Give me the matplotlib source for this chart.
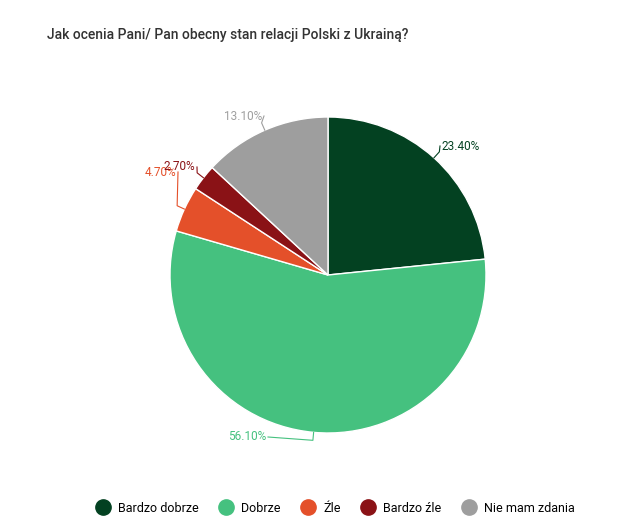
import numpy as np
import matplotlib.pyplot as plt
from matplotlib.lines import Line2D

categories = ["Bardzo dobrze", "Dobrze", "Źle", "Bardzo źle", "Nie mam zdania"]
values = [23.4, 56.1, 4.7, 2.7, 13.1]
labels = ["23.40%", "56.10%", "4.70%", "2.70%", "13.10%"]
colors = ["#034121", "#45c17f", "#e4502a", "#8a1216", "#9e9e9e"]
# label anchor pixel positions (x, y from top)
label_pos = [(442, 146), (266, 437), (176, 172), (195, 167), (262, 116)]

W, H = 634, 530
fig = plt.figure(figsize=(W/100, H/100), dpi=100)
ax = fig.add_axes([0, 0, 1, 1])
cx, cy, R = 328, H - 275, 158
wedges, _ = ax.pie(values, colors=colors, startangle=90, counterclock=False,
                   center=(cx, cy), radius=R, frame=True,
                   wedgeprops=dict(edgecolor="white", linewidth=1))
ax.set_xlim(0, W); ax.set_ylim(0, H); ax.axis("off"); ax.set_aspect("equal")

has = ["left", "right", "right", "right", "right"]
for i, w in enumerate(wedges):
    th = np.deg2rad((w.theta1 + w.theta2) / 2)
    p0 = (cx + R*np.cos(th), cy + R*np.sin(th))
    p1 = (cx + (R+8)*np.cos(th), cy + (R+8)*np.sin(th))
    lx, ly = label_pos[i]; ly = H - ly
    tx = lx - 2 if has[i] == "left" else lx + 2
    ax.plot([p0[0], p1[0], tx], [p0[1], p1[1], ly], color=colors[i], lw=0.8)
    ax.text(lx, ly, labels[i], ha=has[i], va="center", fontsize=8.5,
            color=colors[i], family="Roboto")

fig.text(47/W, 1-35/H, "Jak ocenia Pani/ Pan obecny stan relacji Polski z Ukrainą?",
         fontsize=10, color="#333333", family="Roboto", fontweight="medium", va="center")

handles = [Line2D([], [], marker="o", ls="", markersize=11, color=c) for c in colors]
fig.legend(handles, categories, loc="center", bbox_to_anchor=(0.525, 1-508/H),
           ncol=5, frameon=False, handletextpad=0.2, columnspacing=1.2,
           prop={"family": "Roboto", "size": 9})
fig.savefig("out.png", dpi=100)
